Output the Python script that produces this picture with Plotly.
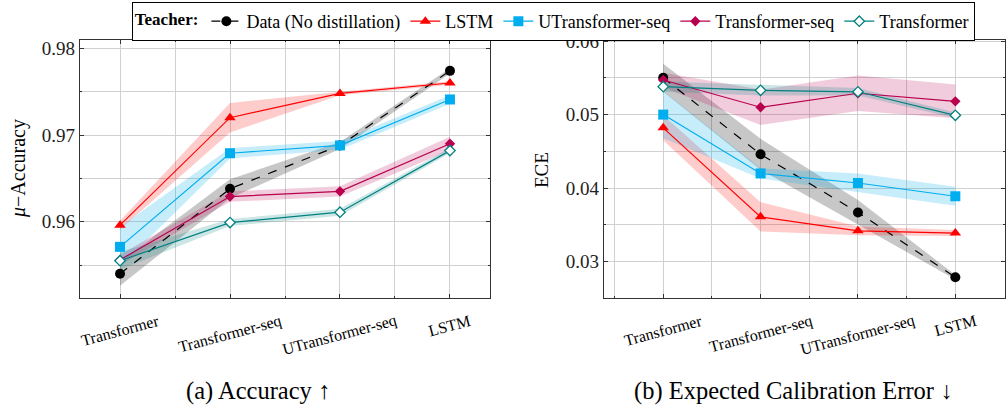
import plotly.graph_objects as go

categories = ["Transformer", "Transformer-seq", "UTransformer-seq", "LSTM"]
series_names = ["Data (No distillation)", "LSTM", "UTransformer-seq", "Transformer-seq", "Transformer"]

# Accuracy means and half-widths of shaded bands
acc_data = [0.9540, 0.9638, 0.9688, 0.9774]
acc_data_sd = [0.0014, 0.0011, 0.0004, 0.0003]
acc_lstm = [0.9596, 0.9720, 0.9748, 0.9760]
acc_lstm_sd = [0.0005, 0.0017, 0.0002, 0.0002]
acc_utseq = [0.9571, 0.9679, 0.9688, 0.9741]
acc_utseq_sd = [0.0023, 0.0006, 0.0005, 0.0005]
acc_tseq = [0.9556, 0.9629, 0.9635, 0.9690]
acc_tseq_sd = [0.0006, 0.0006, 0.0006, 0.0008]
acc_trans = [0.9555, 0.9599, 0.9611, 0.9682]
acc_trans_sd = [0.0010, 0.0004, 0.0004, 0.0003]

# ECE means and half-widths
ece_data = [0.0550, 0.0446, 0.0367, 0.0279]
ece_data_sd = [0.0019, 0.0021, 0.0017, 0.0003]
ece_lstm = [0.0482, 0.0361, 0.0342, 0.0339]
ece_lstm_sd = [0.0017, 0.0020, 0.0006, 0.0004]
ece_utseq = [0.0500, 0.0420, 0.0407, 0.0389]
ece_utseq_sd = [0.0032, 0.0007, 0.0013, 0.0013]
ece_tseq = [0.0547, 0.0510, 0.0529, 0.0518]
ece_tseq_sd = [0.0010, 0.0024, 0.0024, 0.0023]
ece_trans = [0.0538, 0.0533, 0.0531, 0.0499]
ece_trans_sd = [0.0007, 0.0007, 0.0005, 0.0004]

acc_series = [(acc_data, acc_data_sd), (acc_lstm, acc_lstm_sd), (acc_utseq, acc_utseq_sd),
              (acc_tseq, acc_tseq_sd), (acc_trans, acc_trans_sd)]
ece_series = [(ece_data, ece_data_sd), (ece_lstm, ece_lstm_sd), (ece_utseq, ece_utseq_sd),
              (ece_tseq, ece_tseq_sd), (ece_trans, ece_trans_sd)]

colors = ["#000000", "#ff0000", "#00aeef", "#b8004f", "#008080"]
band_colors = ["rgba(0,0,0,0.22)", "rgba(255,0,0,0.2)", "rgba(0,174,239,0.22)",
               "rgba(184,0,79,0.2)", "rgba(0,128,128,0.2)"]
markers = [dict(symbol="circle", size=10, color="#000000"),
           dict(symbol="triangle-up", size=10, color="#ff0000"),
           dict(symbol="square", size=10, color="#00aeef"),
           dict(symbol="diamond", size=8, color="#b8004f"),
           dict(symbol="diamond", size=8, color="white", line=dict(color="#008080", width=1.3))]
dashes = ["dash", "solid", "solid", "solid", "solid"]

xs = list(range(len(categories)))
fig = go.Figure()

for panel, (series, xa, ya) in enumerate([(acc_series, "x", "y"), (ece_series, "x2", "y2")]):
    for i, (m, sd) in enumerate(series):
        upper = [a + b for a, b in zip(m, sd)]
        lower = [a - b for a, b in zip(m, sd)]
        fig.add_trace(go.Scatter(x=xs + xs[::-1], y=upper + lower[::-1], fill="toself",
                                 fillcolor=band_colors[i], line=dict(width=0), mode="lines",
                                 showlegend=False, hoverinfo="skip", xaxis=xa, yaxis=ya))
    for i, (m, sd) in enumerate(series):
        fig.add_trace(go.Scatter(x=xs, y=m, mode="lines+markers", name=series_names[i],
                                 line=dict(color=colors[i], width=1.2, dash=dashes[i]),
                                 marker=markers[i], showlegend=(panel == 0),
                                 xaxis=xa, yaxis=ya))

W, H = 1006, 406
def px_x(p): return p / W
def px_y(p): return 1 - p / H

SERIF = "Liberation Serif, Times New Roman, serif"
axis_common = dict(showline=True, linecolor="#333333", linewidth=1.2, mirror="ticks",
                   showgrid=True, gridcolor="#d0d0d0", gridwidth=1, zeroline=False,
                   ticks="inside", ticklen=4, tickcolor="#333333", automargin=False)
font_ticks = dict(family=SERIF, size=19, color="#222222")

fig.update_layout(
    width=W, height=H, margin=dict(l=0, r=0, t=0, b=0, autoexpand=False),
    paper_bgcolor="white", plot_bgcolor="white",
    font=dict(family=SERIF, size=17, color="#000000"),
    xaxis=dict(domain=[px_x(80), px_x(490)], range=[-0.364, 3.364], tickmode="linear", tick0=0, dtick=1,
               showticklabels=False, minor=dict(dtick=0.5, showgrid=True, gridcolor="#d0d0d0",
                                                ticks="inside", ticklen=2, tickcolor="#333333"),
               anchor="y", **axis_common),
    yaxis=dict(domain=[px_y(298), px_y(40)], range=[0.9512, 0.98096], tickmode="linear", tick0=0.96,
               dtick=0.01, tickformat=".2f", tickfont=font_ticks,
               minor=dict(dtick=0.005, showgrid=True, gridcolor="#d0d0d0",
                          ticks="inside", ticklen=2, tickcolor="#333333"),
               anchor="x", **axis_common),
    xaxis2=dict(domain=[px_x(604), px_x(1005)], range=[-0.608, 3.51], tickmode="linear", tick0=0, dtick=1,
                showticklabels=False, minor=dict(dtick=0.5, showgrid=True, gridcolor="#d0d0d0",
                                                 ticks="inside", ticklen=2, tickcolor="#333333"),
                anchor="y2", **axis_common),
    yaxis2=dict(domain=[px_y(298), px_y(40)], range=[0.02507, 0.06014], tickmode="linear", tick0=0.03,
                dtick=0.01, tickformat=".2f", tickfont=font_ticks,
                minor=dict(dtick=0.005, showgrid=True, gridcolor="#d0d0d0",
                           ticks="inside", ticklen=2, tickcolor="#333333"),
                anchor="x2", **axis_common),
    legend=dict(orientation="h", x=0.55, xanchor="center", y=px_y(2), yanchor="top",
                bordercolor="#000000", borderwidth=1, bgcolor="white",
                font=dict(family=SERIF, size=18),
                title=dict(text="<b>Teacher:</b>", side="left", font=dict(family=SERIF, size=17)),
                itemwidth=30, tracegroupgap=0),
)

annotations = []
for xa in ["x", "x2"]:
    for xi, cat in zip(xs, categories):
        annotations.append(dict(x=xi, y=px_y(309), xref=xa, yref="paper", text=cat, showarrow=False,
                                textangle=-15, xanchor="center", yanchor="top",
                                font=dict(family=SERIF, size=16)))
annotations += [
    dict(x=px_x(18), y=px_y(169), xref="paper", yref="paper", text="<i>μ</i>−Accuracy", textangle=-90,
         showarrow=False, xanchor="center", yanchor="middle", font=dict(family=SERIF, size=20)),
    dict(x=px_x(541), y=px_y(170), xref="paper", yref="paper", text="ECE", textangle=-90,
         showarrow=False, xanchor="center", yanchor="middle", font=dict(family=SERIF, size=19)),
    dict(x=px_x(257.5), y=px_y(391), xref="paper", yref="paper", text="(a) Accuracy ↑",
         showarrow=False, xanchor="center", yanchor="middle", font=dict(family=SERIF, size=24.5)),
    dict(x=px_x(792.5), y=px_y(391), xref="paper", yref="paper", text="(b) Expected Calibration Error ↓",
         showarrow=False, xanchor="center", yanchor="middle", font=dict(family=SERIF, size=24.5)),
]
fig.update_layout(annotations=annotations)

fig.write_html("out.html", config={"displayModeBar": False},
               post_script="document.body.style.margin='0';document.body.style.overflow='hidden';")
